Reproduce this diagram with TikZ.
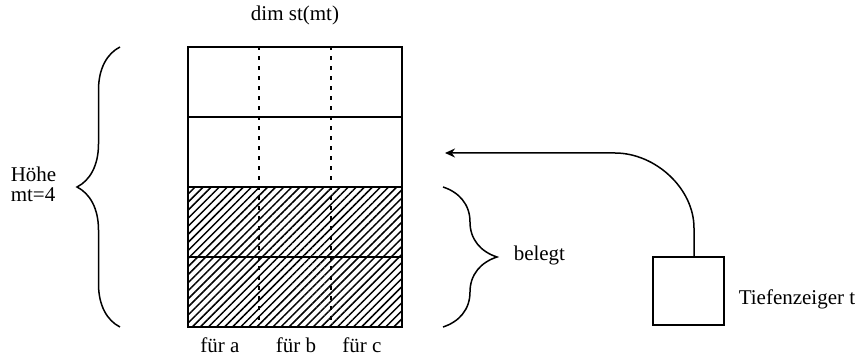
\documentclass[tikz,border=0pt]{standalone}
\usepackage{fontspec}
\setmainfont{Liberation Serif}
\usetikzlibrary{patterns.meta,decorations.pathreplacing,arrows.meta}

\tikzset{
  zelle/.style={draw,line width=1.8pt,minimum width=214pt,minimum height=70pt,inner sep=0pt},
  belegt/.style={zelle,pattern={Lines[angle=45,distance=5.7pt,line width=1.5pt]}},
  spalte/.style={line width=1.8pt,dash pattern=on 4pt off 6pt},
  klammer/.style={line width=1.5pt,decorate,decoration={brace,amplitude=#1}},
  schrift/.style={font=\fontsize{21}{24}\selectfont,inner sep=0pt}
}

\begin{document}
\begin{tikzpicture}[x=1pt,y=1pt,line width=1.5pt]
\path[use as bounding box] (0,0) rectangle (868,358);
% Stapel mit vier Zeilen
\foreach \i in {1,2} \node[zelle] (z\i) at (295,{276-70*(\i-1)}) {};
\foreach \i in {3,4} \node[belegt] (z\i) at (295,{276-70*(\i-1)}) {};
\foreach \x in {259,331}
  \draw[spalte] (z1.north -| \x,0) -- (z4.south -| \x,0);
\node[schrift] (titel) at (295,343) {dim st(mt)};
\node[schrift] (fa) at (220,13) {für a};
\node[schrift] (fb) at (296,13) {für b};
\node[schrift] (fc) at (362,13) {für c};
% Klammern
\draw[klammer=43pt] (120,31) -- (120,311);
\node[schrift,anchor=west] (hoehe) at (10,184) {Höhe};
\node[schrift,anchor=west] (mt) at (10,163) {mt=4};
\draw[klammer=54pt] (443,171) -- (443,31);
\node[schrift,anchor=west] (bel) at (513,103) {belegt};
% Tiefenzeiger
\node[draw,line width=1.8pt,minimum width=71pt,minimum height=68pt] (zeiger) at (688.5,67) {};
\node[schrift,anchor=west] (tzname) at (738,59) {Tiefenzeiger t};
\coordinate (ziel) at (445,205);
\draw[-{Stealth[length=10pt,width=9pt]}] ([xshift=5.5pt]zeiger.north) -- ++(0,28)
  .. controls +(0,40) and +(40,0) .. (615,205) -- (ziel);
\end{tikzpicture}
\end{document}
